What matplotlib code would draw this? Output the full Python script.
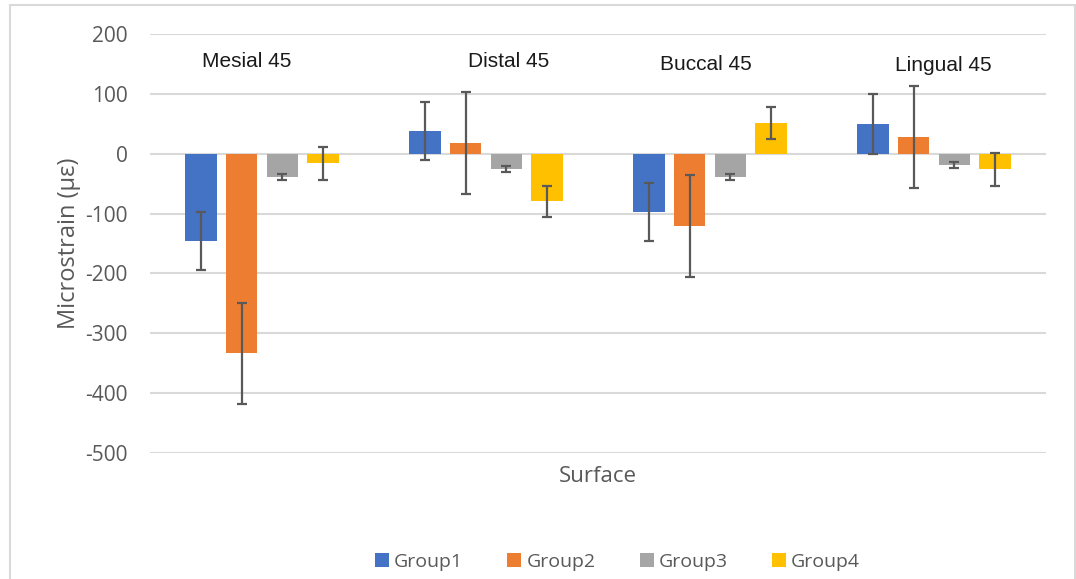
import numpy as np
import matplotlib.pyplot as plt
from matplotlib.patches import Rectangle

surfaces = ['Mesial 45', 'Distal 45', 'Buccal 45', 'Lingual 45']
groups = ['Group1', 'Group2', 'Group3', 'Group4']

group1 = [-146, 38, -97, 50]
group2 = [-334, 18, -121, 28]
group3 = [-38, -25, -38, -18]
group4 = [-16, -79, 51, -26]

err1 = [49, 49, 49, 50]
err2 = [85, 85, 85, 85]
err3 = [5, 5, 5, 5]
err4 = [27, 26, 27, 27]

label_y = [154, 155, 150, 147]

colors = ['#4472C4', '#ED7D31', '#A5A5A5', '#FFC000']

plt.rcParams['font.family'] = ['Open Sans', 'DejaVu Sans']
plt.rcParams['axes.unicode_minus'] = False

fig = plt.figure(figsize=(10.76, 5.79), dpi=100)
ax = fig.add_axes([150 / 1076, 1 - 452.7 / 579, 896 / 1076, 418.4 / 579])

# light border round the chart area
fig.patches.append(Rectangle((10 / 1076, -0.05), 1065 / 1076, 1.05 - 5 / 579,
                             transform=fig.transFigure, fill=False,
                             edgecolor='#D9D9D9', linewidth=1.5))

x = np.arange(len(surfaces))
step = 0.1817
width = 0.14
values = [group1, group2, group3, group4]
errs = [err1, err2, err3, err4]
for i in range(4):
    ax.bar(x + (i - 1.5) * step, values[i], width, color=colors[i], label=groups[i],
           yerr=errs[i], zorder=3,
           error_kw=dict(ecolor='#595959', elinewidth=1.6, capsize=3.6, capthick=1.6, zorder=4))

# surface names sit inside the plot, a little off each group centre
label_dx = [-0.07, 0.1, -0.02, 0.04]
for i, s in enumerate(surfaces):
    ax.text(x[i] + label_dx[i], label_y[i], s, ha='center', va='center', fontsize=15,
            family='Liberation Sans', color='#1a1a1a')

ax.set_xlim(-0.5, 3.5)
ax.set_ylim(-500, 200)
ax.set_yticks(np.arange(-500, 201, 100))
ax.set_xticks([])
ax.yaxis.grid(True, color='#D9D9D9', linewidth=1.5, zorder=0)
ax.set_axisbelow(True)
for sp in ax.spines.values():
    sp.set_visible(False)
ax.tick_params(axis='y', length=0, pad=16, labelsize=15, labelcolor='#595959')

ax.set_ylabel('Microstrain (με)', fontsize=17, color='#595959', labelpad=3)
ax.set_xlabel('Surface', fontsize=16, color='#595959', labelpad=9.5)

fig.legend(loc='center', bbox_to_anchor=(617.5 / 1076, 1 - 561.7 / 579), ncol=4,
           frameon=False, fontsize=14, handlelength=0.72, handleheight=0.72,
           handletextpad=0.26, columnspacing=2.27, labelcolor='#595959')

fig.savefig('out.png', dpi=100)
